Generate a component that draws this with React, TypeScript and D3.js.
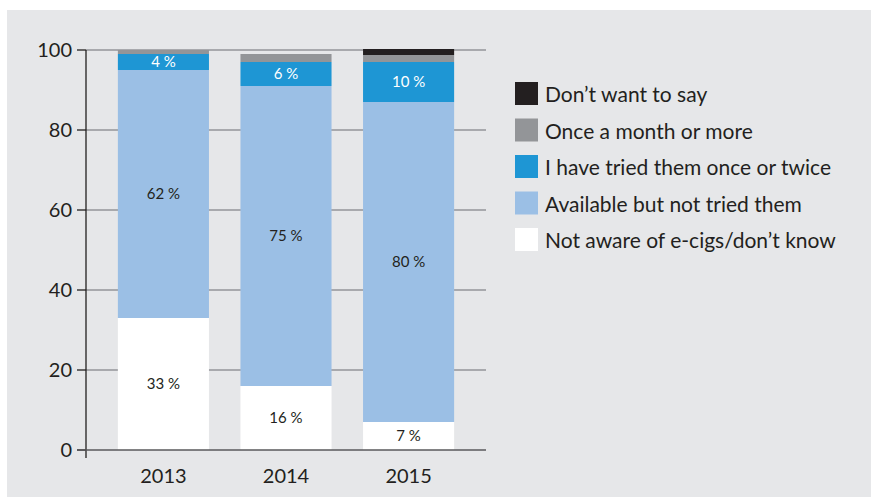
import { useEffect, useRef } from "react";
import * as d3 from "d3";

const years = ["2013", "2014", "2015"];
const notAware = [33, 16, 7];
const availableNotTried = [62, 75, 80];
const triedOnceOrTwice = [4, 6, 10];
const onceAMonth = [1, 2, 1.75];
const dontWantToSay = [0, 0, 1.5];
const yTicks = [0, 20, 40, 60, 80, 100];

const seriesNames = [
  "Not aware of e-cigs/don\u2019t know",
  "Available but not tried them",
  "I have tried them once or twice",
  "Once a month or more",
  "Don\u2019t want to say",
];
const seriesColors = ["#ffffff", "#9bbfe5", "#1e96d4", "#939598", "#231f20"];
const labelColors = ["#231f20", "#231f20", "#ffffff", null, null];

export default function App() {
  const svgRef = useRef(null);

  useEffect(() => {
    const width = 871;
    const height = 497;
    const font = "Lato, 'Open Sans', sans-serif";
    const ink = "#231f20";

    const svg = d3.select(svgRef.current);
    svg.selectAll("*").remove();
    svg.attr("width", width).attr("height", height);

    svg.append("rect")
      .attr("x", 7).attr("y", 10)
      .attr("width", width - 7).attr("height", height - 10)
      .attr("fill", "#e6e7e9");

    const rows = years.map((year, i) => ({
      year,
      s0: notAware[i],
      s1: availableNotTried[i],
      s2: triedOnceOrTwice[i],
      s3: onceAMonth[i],
      s4: dontWantToSay[i],
    }));
    const keys = ["s0", "s1", "s2", "s3", "s4"];
    const stacked = d3.stack().keys(keys)(rows as any);

    const x = d3.scaleBand()
      .domain(years)
      .range([86, 486])
      .paddingInner(0.257)
      .paddingOuter(0.26);

    const y = d3.scaleLinear().domain([0, 100]).range([450, 50]);

    // gridlines
    svg.append("g")
      .selectAll("line")
      .data(yTicks.filter(t => t > 0))
      .join("line")
      .attr("x1", 86).attr("x2", 486)
      .attr("y1", d => y(d)).attr("y2", d => y(d))
      .attr("stroke", "#939598").attr("stroke-width", 1.5);

    // bars
    const layers = svg.append("g")
      .selectAll("g")
      .data(stacked)
      .join("g")
      .attr("fill", (_, i) => seriesColors[i]);

    layers.selectAll("rect")
      .data(d => d)
      .join("rect")
      .attr("x", d => x((d.data as any).year)!)
      .attr("width", x.bandwidth())
      .attr("y", d => y(d[1]))
      .attr("height", d => y(d[0]) - y(d[1]));

    // value labels
    stacked.forEach((layer, i) => {
      const color = labelColors[i];
      if (!color) return;
      svg.append("g")
        .selectAll("text")
        .data(layer)
        .join("text")
        .attr("x", d => x((d.data as any).year)! + x.bandwidth() / 2)
        .attr("y", d => (y(d[0]) + y(d[1])) / 2)
        .attr("dy", "0.35em")
        .attr("text-anchor", "middle")
        .attr("font-family", font)
        .attr("font-size", 15)
        .attr("fill", color)
        .text(d => `${d[1] - d[0]} %`);
    });

    // y axis
    const yAxis = svg.append("g");
    yAxis.append("line")
      .attr("x1", 86).attr("x2", 86)
      .attr("y1", 50).attr("y2", 458)
      .attr("stroke", ink).attr("stroke-width", 1.3);
    yAxis.selectAll("line.tick")
      .data(yTicks)
      .join("line")
      .attr("class", "tick")
      .attr("x1", 77).attr("x2", 86)
      .attr("y1", d => y(d)).attr("y2", d => y(d))
      .attr("stroke", ink).attr("stroke-width", 1.3);
    yAxis.selectAll("text")
      .data(yTicks)
      .join("text")
      .attr("x", 72)
      .attr("y", d => y(d))
      .attr("dy", "0.36em")
      .attr("text-anchor", "end")
      .attr("font-family", font)
      .attr("font-size", 20)
      .attr("fill", ink)
      .text(d => d);

    // x axis
    svg.append("line")
      .attr("x1", 77).attr("x2", 486)
      .attr("y1", y(0)).attr("y2", y(0))
      .attr("stroke", "#58595b").attr("stroke-width", 1.3);
    svg.append("g")
      .selectAll("text")
      .data(years)
      .join("text")
      .attr("x", d => x(d)! + x.bandwidth() / 2)
      .attr("y", 483)
      .attr("text-anchor", "middle")
      .attr("font-family", font)
      .attr("font-size", 20)
      .attr("fill", ink)
      .text(d => d);

    // legend, top entry is the top of the stack
    const legendOrder = [4, 3, 2, 1, 0];
    const legend = svg.append("g")
      .selectAll("g")
      .data(legendOrder)
      .join("g")
      .attr("transform", (_, i) => `translate(515,${82 + i * 36.5})`);
    legend.append("rect")
      .attr("width", 23).attr("height", 23)
      .attr("fill", d => seriesColors[d]);
    legend.append("text")
      .attr("x", 30)
      .attr("y", 20)
      .attr("font-family", font)
      .attr("font-size", 21)
      .attr("fill", ink)
      .text(d => seriesNames[d]);
  }, []);

  return (
    <svg ref={svgRef} style={{ position: "absolute", left: 0, top: 0 }}></svg>
  );
}
